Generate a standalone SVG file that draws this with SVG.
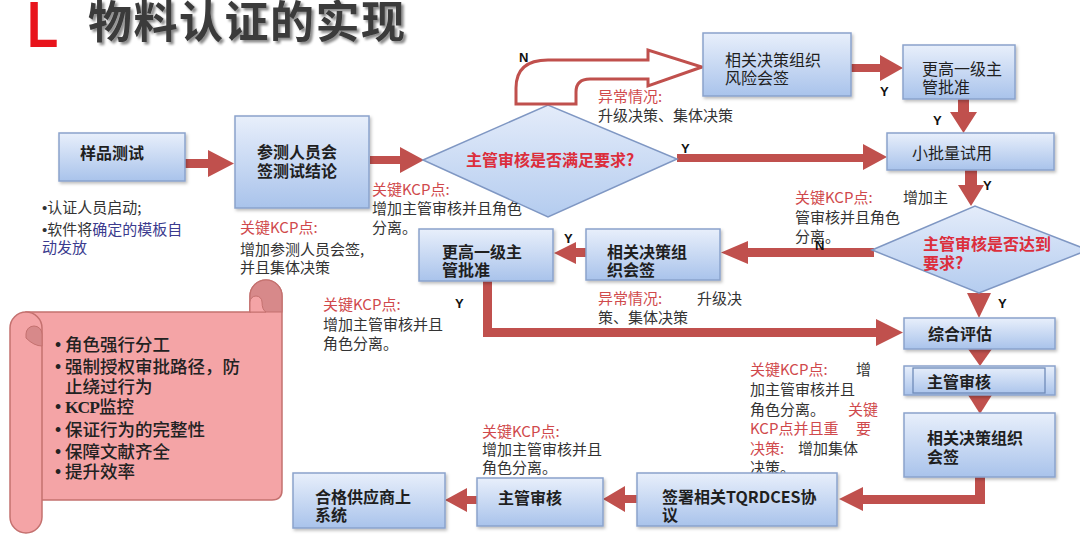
<svg xmlns="http://www.w3.org/2000/svg" width="1080" height="538" viewBox="0 0 1080 538">
<defs>
<linearGradient id="gb" x1="0" y1="0" x2="0" y2="1">
<stop offset="0" stop-color="#e8effb"/>
<stop offset="1" stop-color="#a9c3eb"/>
</linearGradient>
<linearGradient id="gd" x1="0" y1="0" x2="0" y2="1">
<stop offset="0" stop-color="#e4ecfa"/>
<stop offset="1" stop-color="#b4ccef"/>
</linearGradient>
<filter id="sh" x="-10%" y="-10%" width="130%" height="140%">
<feDropShadow dx="1.5" dy="2" stdDeviation="1.5" flood-color="#000" flood-opacity="0.25"/>
</filter>
<filter id="tsh" x="-5%" y="-20%" width="115%" height="150%">
<feDropShadow dx="2.5" dy="2.5" stdDeviation="1.2" flood-color="#000" flood-opacity="0.45"/>
</filter>
</defs>
<style>
.box{fill:url(#gb);stroke:#8aa3cc;stroke-width:1.5;filter:url(#sh)}
.dia{fill:url(#gd);stroke:#7f97c3;stroke-width:1.5}
.arr{fill:#c0504d}
.lb{font-family:"Noto Sans CJK SC",sans-serif;font-size:16px;fill:#1f1f1f}
.b{font-weight:bold}
.t{font-family:"Noto Sans CJK SC",sans-serif;font-size:15px;fill:#333}
.r{fill:#d0494c}
.dt{font-family:"Noto Sans CJK SC",sans-serif;font-size:16px;font-weight:bold;fill:#dc2e3c}
.yn{font-family:"Liberation Sans",sans-serif;font-size:13px;font-weight:bold;fill:#111}
.sc{font-family:"Noto Sans CJK SC",sans-serif;font-size:17.5px;fill:#222;font-weight:500}
.bu{font-family:"Liberation Sans",sans-serif}
.blue{fill:#3b3b8e}
</style>
<rect width="1080" height="538" fill="#ffffff"/>

<g id="title">
<text x="27" y="47" transform="translate(27 0) scale(0.8 1) translate(-27 0)" font-family="Liberation Sans, sans-serif" font-size="64" font-weight="bold" fill="#e8141c">L</text>
<text x="88" y="38" font-family="Noto Sans CJK SC, sans-serif" font-size="44" font-weight="bold" fill="#3a3a3a" letter-spacing="1.5" filter="url(#tsh)">物料认证的实现</text>
</g>

<g id="scroll">
<path d="M26,312 H250 V296 A16,16 0 0 1 282,296 V490 Q282,500 272,500 H26 Z" fill="#f4a4a6" stroke="#c4716f" stroke-width="1.5"/>
<path d="M250,312 V296 A16,16 0 0 1 282,296 V312 Z" fill="#d7898a" stroke="#c4716f" stroke-width="1.2"/>
<path d="M250,312 V302 A6,6 0 0 1 262,302 Q262,310 266,312 Z" fill="#f4a4a6" stroke="#c4716f" stroke-width="1"/>
<path d="M10,328 A16,16 0 0 1 42,328 V517 A16,16 0 0 1 10,517 Z" fill="#f4a4a6" stroke="#c4716f" stroke-width="1.5"/>
<path d="M26,334 A8,8 0 0 1 42,334 V346 Q34,346 26,338 Z" fill="#d7898a" stroke="#c4716f" stroke-width="1"/>
<text class="sc bu" x="55" y="351">•</text><text class="sc" x="65" y="351">角色强行分工</text>
<text class="sc bu" x="55" y="373">•</text><text class="sc" x="65" y="373">强制授权审批路径，防</text>
<text class="sc" x="65" y="393">止绕过行为</text>
<text class="sc bu" x="55" y="413">•</text><text class="sc" x="65" y="413"><tspan font-family="Liberation Serif, serif" font-weight="bold" letter-spacing="-1">KCP</tspan>监控</text>
<text class="sc bu" x="55" y="436">•</text><text class="sc" x="65" y="436">保证行为的完整性</text>
<text class="sc bu" x="55" y="458">•</text><text class="sc" x="65" y="458">保障文献齐全</text>
<text class="sc bu" x="55" y="478">•</text><text class="sc" x="65" y="478">提升效率</text>
</g>

<g id="connectors">
<polygon class="arr" points="185,159 208,159 208,150 234,163.5 208,177 208,168 185,168"/>
<polygon class="arr" points="370,156 400,156 400,147 424,160 400,173 400,164 370,164"/>
<polygon class="arr" points="677,154 863,154 863,144 887,157 863,170 863,162 677,162"/>
<polygon class="arr" points="851,64 880,64 880,55 903,68 880,81 880,72 851,72"/>
<polygon class="arr" points="958,99 969,99 969,112 977,112 963.5,133 950,112 958,112"/>
<polygon class="arr" points="965,170 977,170 977,185 984,185 971,206 958,185 965,185"/>
<polygon class="arr" points="874,248 748,248 748,241 721,252.5 748,264 748,257 874,257"/>
<polygon class="arr" points="586,248 576,248 576,242 554,253 576,264 576,257 586,257"/>
<polygon class="arr" points="483,281 492,281 492,328 876,328 876,319 903,332.5 876,346 876,337 483,337"/>
<polygon class="arr" points="967,293 991,293 979,318"/>
<polygon class="arr" points="968,349 992,349 980,366"/>
<polygon class="arr" points="968,395 992,395 980,414"/>
<polygon class="arr" points="975,477 985,477 985,504 863,504 863,511 839,499 863,487 863,495 975,495"/>
<polygon class="arr" points="637,495 625,495 625,486 603,499 625,512 625,503 637,503"/>
<polygon class="arr" points="477,496 467,496 467,488 445,500 467,512 467,504 477,504"/>
</g>

<g id="n-sample"><rect class="box" x="59" y="133" width="126" height="48"/><text class="lb b" x="80" y="159">样品测试</text></g>
<g id="n-cosign"><rect class="box" x="235" y="116" width="134" height="92"/><text class="lb b" x="257" y="158">参测人员会</text><text class="lb b" x="257" y="177">签测试结论</text></g>

<g id="n-diamond1"><polygon class="dia" points="423,160 548,105 677,159 548,217"/><text class="dt" x="550" y="166" text-anchor="middle">主管审核是否满足要求?</text></g>

<g id="n-uturn"><path d="M516,104 L516,88 Q516,60 548,60 L648,60 L648,50 L702,67 L648,86 L648,79 L590,79 Q576,79 576,92 L576,104 Z" fill="#ffffff" stroke="#c0504d" stroke-width="3" stroke-linejoin="miter"/></g>

<g id="n-risk"><rect class="box" x="703" y="33" width="148" height="63"/><text class="lb" x="725" y="66">相关决策组织</text><text class="lb" x="725" y="84">风险会签</text></g>
<g id="n-higher1"><rect class="box" x="903" y="45" width="112" height="54"/><text class="lb" x="922" y="75">更高一级主</text><text class="lb" x="922" y="93">管批准</text></g>
<g id="n-trial"><rect class="box" x="887" y="133" width="167" height="37"/><text class="lb" x="912" y="159">小批量试用</text></g>

<g id="n-diamond2"><polygon class="dia" points="872,250 975,206 1088,250 979,293"/><text class="dt" x="923" y="250">主管审核是否达到</text><text class="dt" x="923" y="269">要求?</text></g>

<g id="n-higher2"><rect class="box" x="419" y="229" width="134" height="52"/><text class="lb b" x="442" y="258">更高一级主</text><text class="lb b" x="442" y="276">管批准</text></g>
<g id="n-org1"><rect class="box" x="586" y="229" width="134" height="51"/><text class="lb b" x="607" y="258">相关决策组</text><text class="lb b" x="607" y="276">织会签</text></g>

<g id="n-eval"><rect class="box" x="904" y="318" width="151" height="31"/><text class="lb b" x="928" y="340">综合评估</text></g>
<g id="n-review1"><rect class="box" x="904" y="366" width="151" height="29"/><rect x="913" y="368" width="132" height="25" fill="none" stroke="#6f8bb9" stroke-width="1.3"/><text class="lb b" x="927" y="388">主管审核</text></g>
<g id="n-org2"><rect class="box" x="904" y="413" width="151" height="64"/><text class="lb b" x="927" y="444">相关决策组织</text><text class="lb b" x="927" y="463">会签</text></g>

<g id="t-notes">
<text class="t" x="42" y="213"><tspan class="bu">•</tspan>认证人员启动;</text>
<text class="t" x="42" y="235"><tspan class="bu">•</tspan>软件将<tspan class="blue">确定的模板自</tspan></text>
<text class="t blue" x="42" y="253">动发放</text>
<text class="t r" x="240" y="233">关键KCP点:</text>
<text class="t" x="240" y="255">增加参测人员会签,</text>
<text class="t" x="240" y="273">并且集体决策</text>
<text class="t r" x="372" y="195">关键KCP点:</text>
<text class="t" x="372" y="214">增加主管审核并且角色</text>
<text class="t" x="372" y="233">分离。</text>
<text class="t r" x="598" y="102">异常情况:</text>
<text class="t" x="598" y="121">升级决策、集体决策</text>
<text class="t r" x="795" y="203">关键KCP点:</text>
<text class="t" x="903" y="203">增加主</text>
<text class="t" x="795" y="223">管审核并且角色</text>
<text class="t" x="795" y="242">分离。</text>
<text class="t r" x="323" y="310">关键KCP点:</text>
<text class="t" x="323" y="330">增加主管审核并且</text>
<text class="t" x="323" y="349">角色分离。</text>
<text class="t r" x="598" y="304">异常情况:</text>
<text class="t" x="697" y="304">升级决</text>
<text class="t" x="598" y="323">策、集体决策</text>
<text class="t r" x="750" y="375">关键KCP点:</text>
<text class="t" x="856" y="375">增</text>
<text class="t" x="750" y="395">加主管审核并且</text>
<text class="t" x="750" y="415">角色分离。</text>
<text class="t r" x="848" y="415">关键</text>
<text class="t r" x="750" y="434">KCP点并且重</text>
<text class="t r" x="856" y="434">要</text>
<text class="t r" x="750" y="454">决策:</text>
<text class="t" x="798" y="454">增加集体</text>
<text class="t" x="750" y="473">决策。</text>
<text class="t r" x="482" y="437">关键KCP点:</text>
<text class="t" x="482" y="455">增加主管审核并且</text>
<text class="t" x="482" y="473">角色分离。</text>
</g>

<g id="n-sign"><rect class="box" x="637" y="473" width="200" height="53"/><text class="lb b" x="662" y="503">签署相关TQRDCES协</text><text class="lb b" x="662" y="521">议</text></g>
<g id="n-review2"><rect class="box" x="477" y="478" width="126" height="48"/><text class="lb b" x="498" y="504">主管审核</text></g>
<g id="n-qualified"><rect class="box" x="293" y="473" width="152" height="55"/><text class="lb b" x="315" y="503">合格供应商上</text><text class="lb b" x="315" y="521">系统</text></g>

<g id="yn-labels">
<text class="yn" x="519" y="62">N</text>
<text class="yn" x="681" y="153">Y</text>
<text class="yn" x="880" y="96">Y</text>
<text class="yn" x="933" y="125">Y</text>
<text class="yn" x="983" y="190">Y</text>
<text class="yn" x="815" y="250">N</text>
<text class="yn" x="564" y="243">Y</text>
<text class="yn" x="455" y="308">Y</text>
<text class="yn" x="998" y="308">Y</text>
</g>
</svg>
